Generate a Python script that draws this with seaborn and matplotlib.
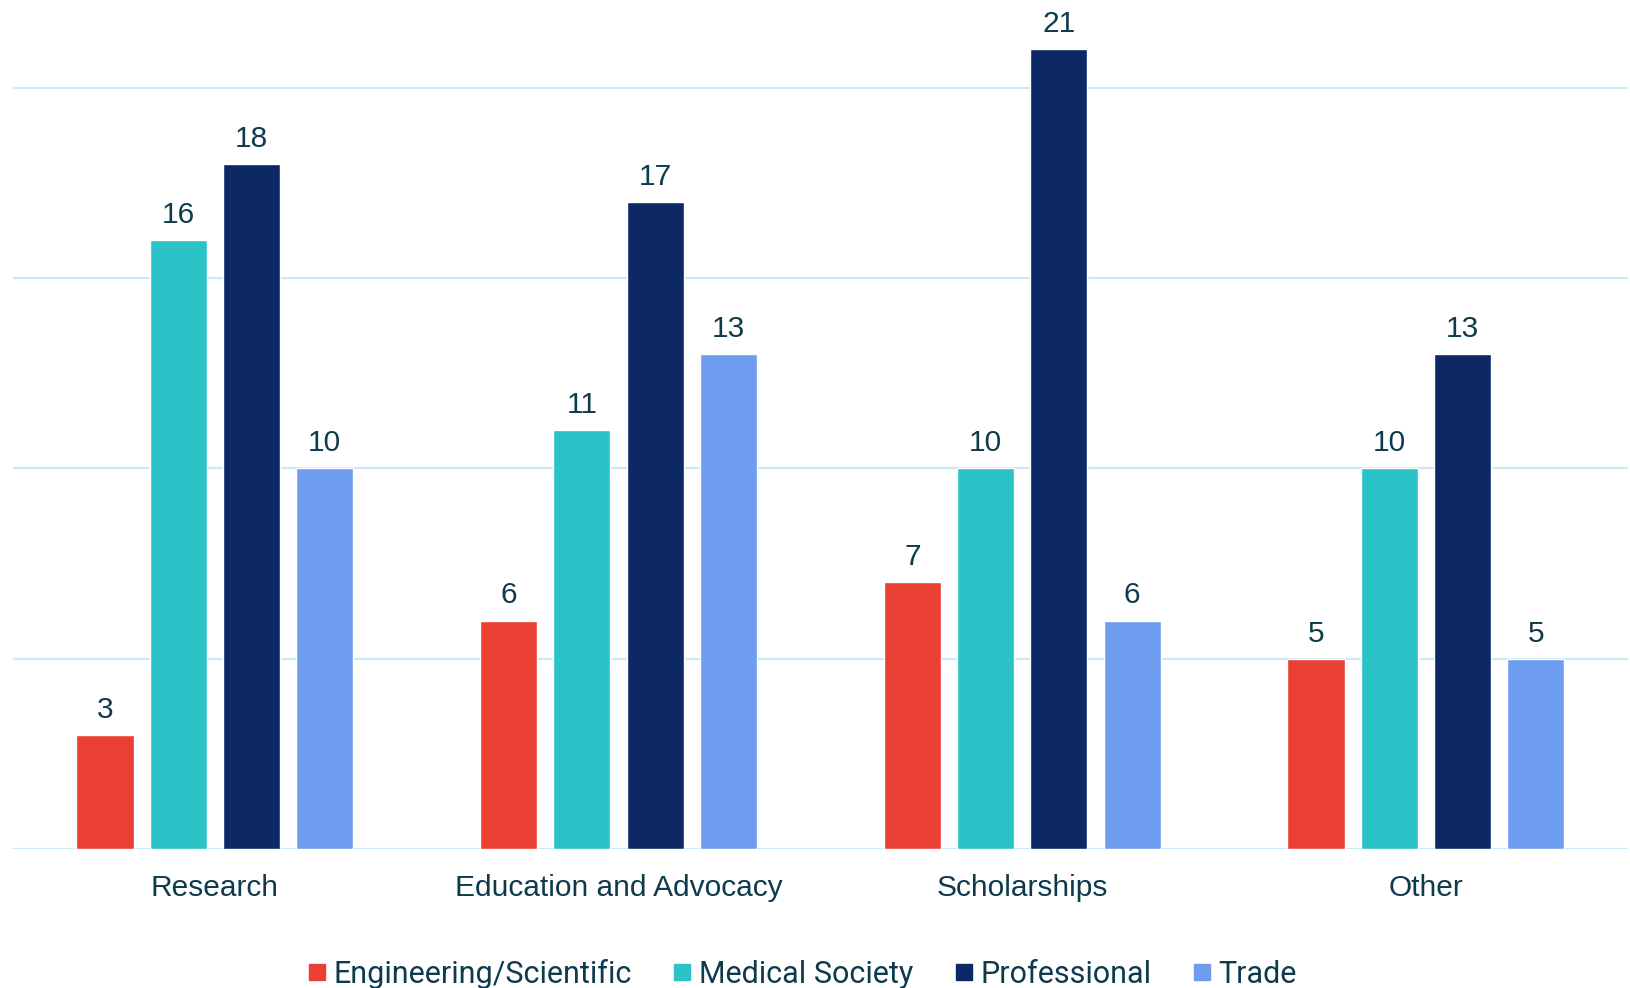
import pandas as pd
import matplotlib
matplotlib.use("Agg")
import matplotlib.pyplot as plt
from matplotlib.lines import Line2D
import seaborn as sns

# dati
categorie = ["Research", "Education and Advocacy", "Scholarships", "Other"]
serie = ["Engineering/Scientific", "Medical Society", "Professional", "Trade"]
engineering = [3, 6, 7, 5]
medical = [16, 11, 10, 10]
professional = [18, 17, 21, 13]
trade = [10, 13, 6, 5]
colori = ["#E94033", "#2BC3C8", "#0C2966", "#6E9DEF"]
testo = "#0D3A4C"

valori = [engineering, medical, professional, trade]
rows = []
for nome, vals in zip(serie, valori):
    for cat, v in zip(categorie, vals):
        rows.append({"categoria": cat, "tipo": nome, "valore": v})
df = pd.DataFrame(rows)

sns.set_style("white")
plt.rcParams['font.family'] = ['Liberation Sans', 'DejaVu Sans']

fig = plt.figure(figsize=(16.31, 9.88), dpi=100)
ax = fig.add_axes([0.008, 0.1407, 0.990, 0.8593])

sns.barplot(data=df, x="categoria", y="valore", hue="tipo", order=categorie,
            hue_order=serie, palette=colori, width=0.726, gap=0.22,
            saturation=1, ax=ax, legend=False)

for cont in ax.containers:
    ax.bar_label(cont, padding=8, fontsize=21.5, color=testo)

ax.set_xlim(-0.5, 3.5)
ax.set_ylim(0, 22.3)
ax.set_yticks([0, 5, 10, 15, 20])
ax.yaxis.grid(True, color="#C8E9F6", linewidth=1.5)
ax.set_axisbelow(True)
ax.tick_params(axis="y", left=False, labelleft=False)
ax.tick_params(axis="x", length=0, pad=18, labelsize=21.5, labelcolor=testo)
ax.set_xlabel("")
ax.set_ylabel("")
sns.despine(ax=ax, left=True, bottom=True, top=True, right=True)

handles = [Line2D([], [], marker="s", linestyle="", markersize=11.5,
                  markerfacecolor=c, markeredgecolor=c) for c in colori]
fig.legend(handles, serie, loc="center", bbox_to_anchor=(0.49, 0.014),
           ncol=4, frameon=False, handletextpad=0.05, columnspacing=1.15,
           handlelength=1.0, borderpad=0,
           prop={"family": ["Roboto", "DejaVu Sans"], "size": 22},
           labelcolor=testo)

fig.savefig("out.png", dpi=100)
